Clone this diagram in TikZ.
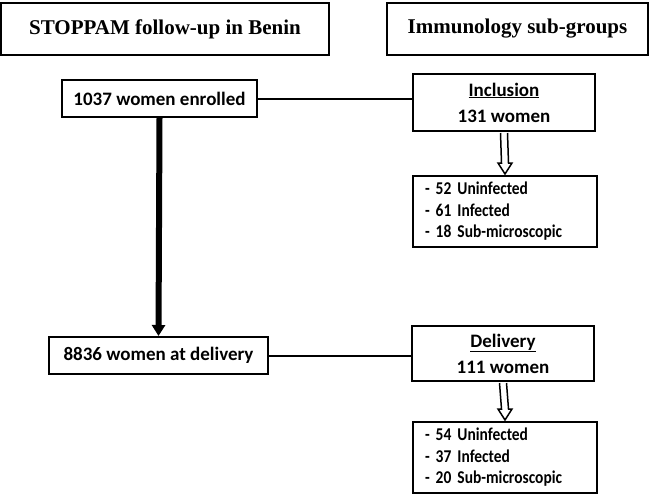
\documentclass[tikz,border=0pt]{standalone}
\usepackage{fontspec}
\setmainfont{Liberation Serif}
\newfontfamily\calfont{Carlito}
\newfontfamily\condfont[FakeStretch=0.86]{Carlito}
\usetikzlibrary{arrows.meta,calc}
\begin{document}
\begin{tikzpicture}[x=1pt,y=-1pt,
  titlebox/.style={draw, line width=2pt, minimum width=#1, inner sep=0pt, minimum height=52pt, font=\fontsize{21}{25}\selectfont\bfseries},
  mainbox/.style={draw, line width=2pt, inner sep=0pt, align=center, font=\calfont\bfseries\fontsize{19}{26}\selectfont},
  infobox/.style={draw, line width=2pt, inner sep=0pt, minimum width=184pt, minimum height=71pt, text width=160pt, align=left, font=\condfont\bfseries\fontsize{18}{21.5}\selectfont},
  link/.style={line width=2pt},
  bigarrow/.style={line width=6pt, -{Triangle[length=11pt,width=13pt]}},
  openarrow/.style={line width=1.5pt, line join=miter, fill=white}
]
\useasboundingbox (0,0) rectangle (650,496);
\node[titlebox=328pt] (t1) at (165,29) {STOPPAM follow-up in Benin};
\node[titlebox=261pt] (t2) at (517.5,29) {Immunology sub-groups};

\node[mainbox, minimum width=195pt, minimum height=37pt] (enr) at (159.5,98.5) {1037 women enrolled};
\node[mainbox, minimum width=182pt, minimum height=57pt] (inc) at (504,102.5) {\underline{Inclusion}\\131 women};
\node[infobox] (incinfo) at (505,211.5) {- 52 Uninfected\\- 61 Infected\\- 18 Sub-microscopic};

\node[mainbox, minimum width=219pt, minimum height=37pt] (dlv) at (158.5,355.5) {8836 women at delivery};
\node[mainbox, minimum width=182pt, minimum height=55pt] (dgrp) at (503,353.5) {\underline{Delivery}\\111 women};
\node[infobox] (dinfo) at (505,457.5) {- 54 Uninfected\\- 37 Infected\\- 20 Sub-microscopic};

\draw[link] (enr.east) -- (enr.east -| inc.west);
\draw[link] (dlv.east) -- (dlv.east -| dgrp.west);
\draw[bigarrow] (enr.south) -- (dlv.north);
\foreach \a/\b in {inc/incinfo, dgrp/dinfo}{
  \draw[openarrow] ($(\a.south)+(-3.5,1)$) -- ($(\b.north)+(-3.5,-12)$) -- ($(\b.north)+(-7,-12)$)
    -- ($(\b.north)+(0,-1)$) -- ($(\b.north)+(7,-12)$) -- ($(\b.north)+(3.5,-12)$) -- ($(\a.south)+(3.5,1)$);
}
\end{tikzpicture}
\end{document}
